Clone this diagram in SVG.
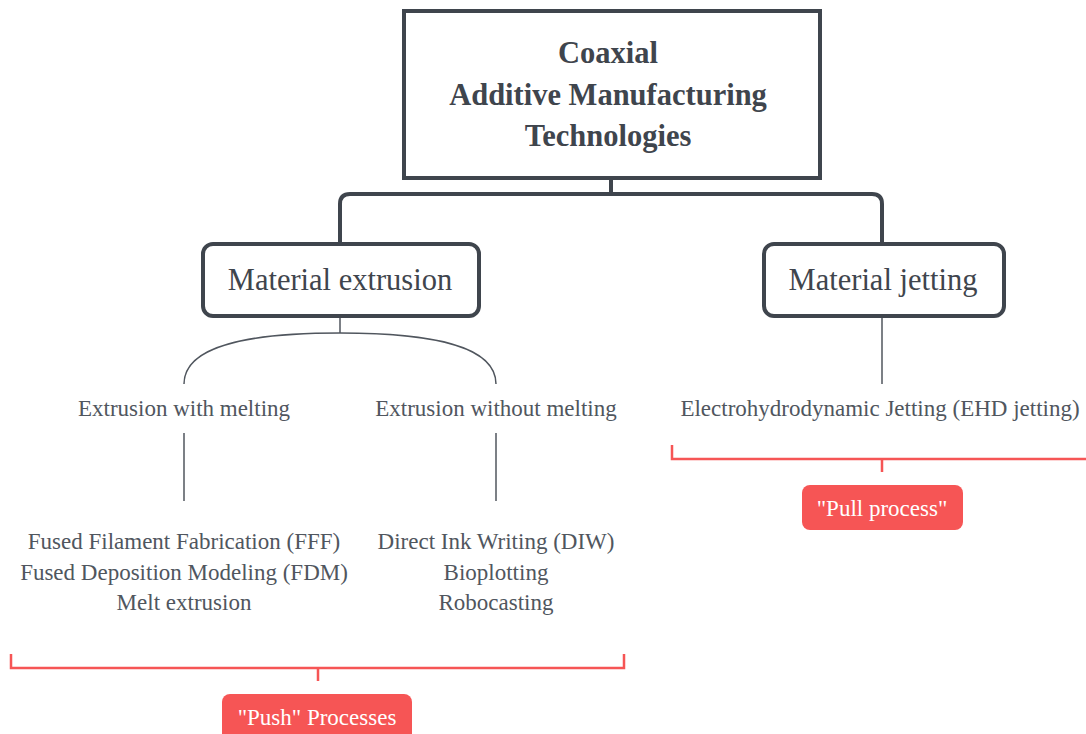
<svg xmlns="http://www.w3.org/2000/svg" width="1086" height="734" viewBox="0 0 1086 734">
<defs>
<style>
.box{fill:#fff;stroke:#3f454d;stroke-width:4}
.thick{fill:none;stroke:#3f454d;stroke-width:4}
.thin{fill:none;stroke:#50565e;stroke-width:1.5}
.red{fill:none;stroke:#f65555;stroke-width:2.5}
.tag{fill:#f65555}
</style>
</defs>
<rect width="1086" height="734" fill="#fff"/>
<g id="connectors">
<path class="thick" d="M611 178 V194"/>
<path class="thick" d="M340 243 V204 Q340 194 350 194 H872 Q882 194 882 204 V243"/>
<path class="thin" d="M340 317 V333"/>
<path class="thin" d="M184 384 C184 345 250 333 340 333 C430 333 496 345 496 384"/>
<path class="thin" d="M184 433 V501"/>
<path class="thin" d="M496 433 V501"/>
<path class="thin" d="M882 317 V384"/>
<path class="red" d="M11 654 V668 H624 V654 M318 668 V681"/>
<path class="red" d="M672 445 V459 H1086 M882 459 V472"/>
</g>
<g id="root">
<rect class="box" x="404" y="11" width="416" height="167"/>
<g font-family="Liberation Serif, serif" font-weight="bold" font-size="30.5" fill="#3f454d" text-anchor="middle">
<text x="608" y="63">Coaxial</text>
<text x="608" y="105">Additive Manufacturing</text>
<text x="608" y="146">Technologies</text>
</g>
</g>
<g id="material-extrusion">
<rect class="box" x="203" y="244" width="276" height="72" rx="10"/>
<text x="340" y="290" font-family="Liberation Serif, serif" font-size="30.5" fill="#3f454d" text-anchor="middle">Material extrusion</text>
</g>
<g id="material-jetting">
<rect class="box" x="764" y="244" width="240" height="72" rx="10"/>
<text x="883" y="290" font-family="Liberation Serif, serif" font-size="30.5" fill="#3f454d" text-anchor="middle">Material jetting</text>
</g>
<g font-family="Liberation Serif, serif" font-size="23" fill="#50565e" text-anchor="middle">
<g id="with-melting">
<text x="184" y="416">Extrusion with melting</text>
</g>
<g id="without-melting">
<text x="496" y="416">Extrusion without melting</text>
</g>
<g id="ehd">
<text x="880" y="416">Electrohydrodynamic Jetting (EHD jetting)</text>
</g>
<g id="melt-list">
<text x="184" y="549">Fused Filament Fabrication (FFF)</text>
<text x="184" y="580">Fused Deposition Modeling (FDM)</text>
<text x="184" y="610">Melt extrusion</text>
</g>
<g id="nomelt-list">
<text x="496" y="549">Direct Ink Writing (DIW)</text>
<text x="496" y="580">Bioplotting</text>
<text x="496" y="610">Robocasting</text>
</g>
</g>
<g id="push">
<rect class="tag" x="222" y="694" width="190" height="50" rx="8"/>
<text x="317" y="725" font-family="Liberation Serif, serif" font-size="23" fill="#fff" text-anchor="middle">"Push" Processes</text>
</g>
<g id="pull">
<rect class="tag" x="802" y="485" width="161" height="45" rx="8"/>
<text x="882" y="516" font-family="Liberation Serif, serif" font-size="23" fill="#fff" text-anchor="middle">"Pull process"</text>
</g>
</svg>
